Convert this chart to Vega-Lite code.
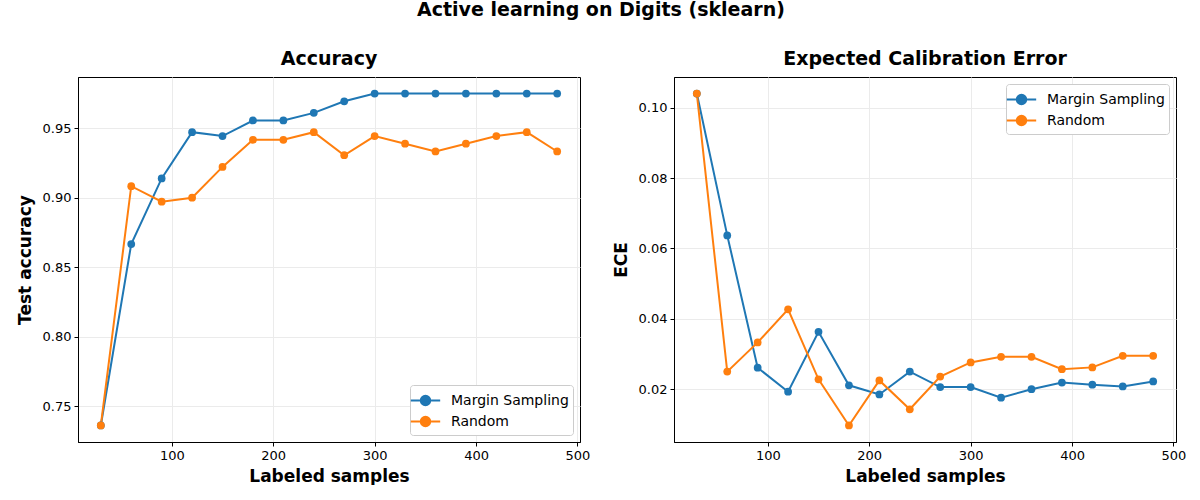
{
  "$schema": "https://vega.github.io/schema/vega-lite/v6.json",
  "background": "white",
  "padding": {"left": 15, "top": 0, "right": 0, "bottom": 0},
  "title": {
    "text": "Active learning on Digits (sklearn)",
    "anchor": "middle",
    "fontSize": 19,
    "fontWeight": "bold",
    "font": "DejaVu Sans",
    "color": "black",
    "offset": 30
  },
  "datasets": {
    "runs": [
      {"n": 30, "method": "Margin Sampling", "acc": 0.7361, "ece": 0.1040},
      {"n": 60, "method": "Margin Sampling", "acc": 0.8667, "ece": 0.0637},
      {"n": 90, "method": "Margin Sampling", "acc": 0.9139, "ece": 0.0261},
      {"n": 120, "method": "Margin Sampling", "acc": 0.9472, "ece": 0.0193},
      {"n": 150, "method": "Margin Sampling", "acc": 0.9444, "ece": 0.0363},
      {"n": 180, "method": "Margin Sampling", "acc": 0.9556, "ece": 0.0211},
      {"n": 210, "method": "Margin Sampling", "acc": 0.9556, "ece": 0.0185},
      {"n": 240, "method": "Margin Sampling", "acc": 0.9611, "ece": 0.0250},
      {"n": 270, "method": "Margin Sampling", "acc": 0.9694, "ece": 0.0206},
      {"n": 300, "method": "Margin Sampling", "acc": 0.9750, "ece": 0.0206},
      {"n": 330, "method": "Margin Sampling", "acc": 0.9750, "ece": 0.0176},
      {"n": 360, "method": "Margin Sampling", "acc": 0.9750, "ece": 0.0200},
      {"n": 390, "method": "Margin Sampling", "acc": 0.9750, "ece": 0.0219},
      {"n": 420, "method": "Margin Sampling", "acc": 0.9750, "ece": 0.0213},
      {"n": 450, "method": "Margin Sampling", "acc": 0.9750, "ece": 0.0208},
      {"n": 480, "method": "Margin Sampling", "acc": 0.9750, "ece": 0.0222},
      {"n": 30, "method": "Random", "acc": 0.7361, "ece": 0.1040},
      {"n": 60, "method": "Random", "acc": 0.9083, "ece": 0.0250},
      {"n": 90, "method": "Random", "acc": 0.8972, "ece": 0.0333},
      {"n": 120, "method": "Random", "acc": 0.9000, "ece": 0.0427},
      {"n": 150, "method": "Random", "acc": 0.9222, "ece": 0.0228},
      {"n": 180, "method": "Random", "acc": 0.9417, "ece": 0.0097},
      {"n": 210, "method": "Random", "acc": 0.9417, "ece": 0.0225},
      {"n": 240, "method": "Random", "acc": 0.9472, "ece": 0.0143},
      {"n": 270, "method": "Random", "acc": 0.9306, "ece": 0.0236},
      {"n": 300, "method": "Random", "acc": 0.9444, "ece": 0.0276},
      {"n": 330, "method": "Random", "acc": 0.9389, "ece": 0.0292},
      {"n": 360, "method": "Random", "acc": 0.9333, "ece": 0.0292},
      {"n": 390, "method": "Random", "acc": 0.9389, "ece": 0.0257},
      {"n": 420, "method": "Random", "acc": 0.9444, "ece": 0.0262},
      {"n": 450, "method": "Random", "acc": 0.9472, "ece": 0.0295},
      {"n": 480, "method": "Random", "acc": 0.9333, "ece": 0.0295}
    ]
  },
  "data": {"name": "runs"},
  "spacing": 20,
  "hconcat": [
    {
      "width": 502,
      "height": 365,
      "title": {"text": "Accuracy"},
      "encoding": {
        "x": {
          "field": "n", "type": "quantitative", "title": "Labeled samples",
          "scale": {"domain": [7.5, 502.5], "nice": false, "zero": false},
          "axis": {"values": [100, 200, 300, 400, 500]}
        },
        "y": {
          "field": "acc", "type": "quantitative", "title": "Test accuracy",
          "scale": {"domain": [0.7242, 0.9869], "nice": false, "zero": false},
          "axis": {"values": [0.75, 0.8, 0.85, 0.9, 0.95], "format": ".2f"}
        },
        "color": {
          "field": "method", "type": "nominal",
          "scale": {"domain": ["Margin Sampling", "Random"], "range": ["#1f77b4", "#ff7f0e"]},
          "legend": {"title": null, "orient": "bottom-right"}
        }
      },
      "layer": [
        {"mark": {"type": "line", "strokeWidth": 2}},
        {"mark": {"type": "circle", "size": 60, "opacity": 1}}
      ]
    },
    {
      "width": 502,
      "height": 365,
      "title": {"text": "Expected Calibration Error"},
      "encoding": {
        "x": {
          "field": "n", "type": "quantitative", "title": "Labeled samples",
          "scale": {"domain": [7.5, 502.5], "nice": false, "zero": false},
          "axis": {"values": [100, 200, 300, 400, 500]}
        },
        "y": {
          "field": "ece", "type": "quantitative", "title": "ECE",
          "scale": {"domain": [0.0050, 0.1087], "nice": false, "zero": false},
          "axis": {"values": [0.02, 0.04, 0.06, 0.08, 0.1], "format": ".2f"}
        },
        "color": {
          "field": "method", "type": "nominal",
          "scale": {"domain": ["Margin Sampling", "Random"], "range": ["#1f77b4", "#ff7f0e"]},
          "legend": {"title": null, "orient": "top-right"}
        }
      },
      "layer": [
        {"mark": {"type": "line", "strokeWidth": 2}},
        {"mark": {"type": "circle", "size": 60, "opacity": 1}}
      ]
    }
  ],
  "resolve": {"legend": {"color": "independent"}},
  "config": {
    "font": "DejaVu Sans",
    "view": {"stroke": "black", "strokeWidth": 1},
    "title": {"fontSize": 19, "fontWeight": "bold", "font": "DejaVu Sans", "color": "black", "offset": 8},
    "axis": {
      "labelFont": "DejaVu Sans",
      "labelFontSize": 13,
      "labelColor": "black",
      "titleFont": "DejaVu Sans",
      "titleFontSize": 17,
      "titleFontWeight": "bold",
      "titleColor": "black",
      "domainColor": "black",
      "tickColor": "black",
      "tickSize": 4,
      "gridColor": "#ebebeb",
      "gridOpacity": 1,
      "labelPadding": 3
    },
    "axisX": {"titlePadding": 6},
    "axisY": {"titlePadding": 8},
    "legend": {
      "labelFont": "DejaVu Sans",
      "labelFontSize": 14,
      "labelColor": "black",
      "symbolType": "M-1.4,0H1.4M-0.45,0A0.45,0.45 0 1,0 0.45,0A0.45,0.45 0 1,0 -0.45,0",
      "symbolSize": 440,
      "symbolStrokeWidth": 2,
      "symbolOpacity": 1,
      "fillColor": "white",
      "strokeColor": "#cccccc",
      "cornerRadius": 3,
      "padding": 4,
      "offset": 7,
      "rowPadding": 0,
      "labelOffset": 14
    }
  }
}
